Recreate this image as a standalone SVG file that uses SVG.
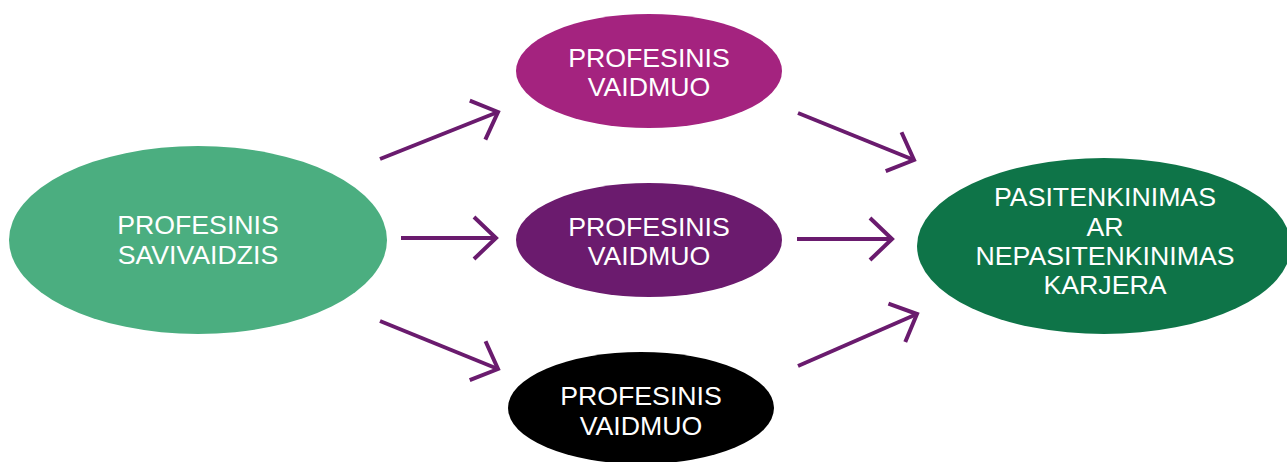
<svg xmlns="http://www.w3.org/2000/svg" width="1287" height="462" viewBox="0 0 1287 462">
<style>
.t{font-family:"Liberation Sans",Arial,sans-serif;font-size:26.7px;fill:#fff;text-anchor:middle}
.c{fill:none;stroke:#6A1B6E;stroke-width:4}
</style>
<defs>
<marker id="ah" markerUnits="userSpaceOnUse" markerWidth="40" markerHeight="50" viewBox="-30 -25 40 50" refX="0" refY="0" orient="auto" overflow="visible">
<path d="M-22,-21 L0,0 L-22,21" fill="none" stroke="#6A1B6E" stroke-width="4"/>
</marker>
</defs>
<rect width="1287" height="462" fill="#fff"/>
<g id="connectors">
<line class="c" x1="380" y1="159" x2="498" y2="112" marker-end="url(#ah)"/>
<line class="c" x1="401" y1="238" x2="496" y2="238" marker-end="url(#ah)"/>
<line class="c" x1="380" y1="321" x2="498" y2="369" marker-end="url(#ah)"/>
<line class="c" x1="798" y1="113" x2="914" y2="160" marker-end="url(#ah)"/>
<line class="c" x1="797" y1="239" x2="892" y2="239" marker-end="url(#ah)"/>
<line class="c" x1="798" y1="366" x2="917" y2="314" marker-end="url(#ah)"/>
</g>
<g id="self">
<ellipse cx="198" cy="240" rx="189" ry="94" fill="#4BAE80"/>
<text class="t" x="198" y="234">PROFESINIS</text>
<text class="t" x="198" y="264">SAVIVAIDZIS</text>
</g>
<g id="role1">
<ellipse cx="649" cy="71" rx="133" ry="57" fill="#A4237F"/>
<text class="t" x="649" y="67">PROFESINIS</text>
<text class="t" x="649" y="96">VAIDMUO</text>
</g>
<g id="role2">
<ellipse cx="649" cy="240" rx="133" ry="57" fill="#6B1B6E"/>
<text class="t" x="649" y="236">PROFESINIS</text>
<text class="t" x="649" y="265">VAIDMUO</text>
</g>
<g id="role3">
<ellipse cx="641" cy="408" rx="133" ry="56" fill="#000"/>
<text class="t" x="641" y="405">PROFESINIS</text>
<text class="t" x="641" y="435">VAIDMUO</text>
</g>
<g id="career">
<ellipse cx="1104" cy="246" rx="187" ry="88" fill="#0E7448"/>
<text class="t" x="1105" y="206">PASITENKINIMAS</text>
<text class="t" x="1105" y="236">AR</text>
<text class="t" x="1105" y="265">NEPASITENKINIMAS</text>
<text class="t" x="1105" y="294">KARJERA</text>
</g>
</svg>
